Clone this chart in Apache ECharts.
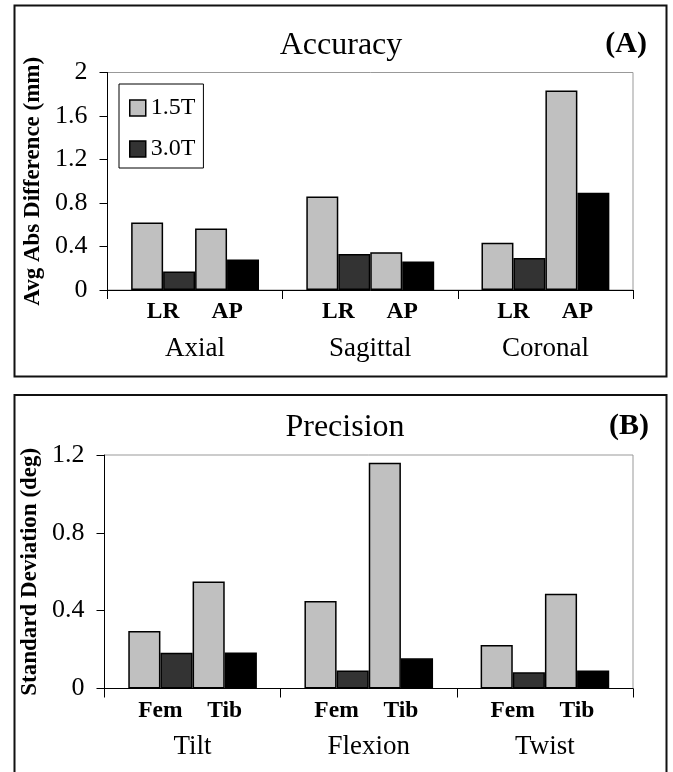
<!DOCTYPE html>
<html><head><meta charset="utf-8">
<script src="https://cdn.jsdelivr.net/npm/echarts@6/dist/echarts.min.js"></script>
<style>html,body{margin:0;padding:0;background:#fff}#c{width:673px;height:772px}</style>
</head><body><div id="c"></div>
<script>
// Panel A: Accuracy
const accCategories = ['Axial', 'Sagittal', 'Coronal'];
const accLR15 = [0.62, 0.86, 0.435];
const accLR30 = [0.17, 0.33, 0.295];
const accAP15 = [0.565, 0.347, 1.835];
const accAP30 = [0.28, 0.263, 0.895];
const accTicks = [0, 0.4, 0.8, 1.2, 1.6, 2];
// Panel B: Precision
const precCategories = ['Tilt', 'Flexion', 'Twist'];
const precFem15 = [0.295, 0.45, 0.224];
const precFem30 = [0.184, 0.092, 0.083];
const precTib15 = [0.55, 1.16, 0.487];
const precTib30 = [0.185, 0.155, 0.093];
const precTicks = [0, 0.4, 0.8, 1.2];
const legendNames = ['1.5T', '3.0T'];

const FONT = "'Liberation Serif', 'Times New Roman', serif";
const chart = echarts.init(document.getElementById('c'));

function yAxis(gi, ticks, name, gap) {
  return {
    type: 'value', gridIndex: gi, min: ticks[0], max: ticks[ticks.length - 1],
    interval: ticks[1] - ticks[0],
    name: name, nameLocation: 'middle', nameRotate: 90, nameGap: gap,
    nameTextStyle: { fontFamily: FONT, fontWeight: 'bold', fontSize: 23, color: '#000' },
    axisLine: { show: true, lineStyle: { color: '#000', width: 1 } },
    axisTick: { show: true, length: 8, lineStyle: { color: '#000' } },
    axisLabel: { fontFamily: FONT, fontSize: 26, color: '#000', margin: 20 },
    splitLine: { show: false }
  };
}
function xAxis(gi, cats) {
  return {
    type: 'category', gridIndex: gi, data: cats,
    axisLine: { show: true, lineStyle: { color: '#000', width: 1 } },
    axisTick: { show: true, length: 9, lineStyle: { color: '#000' } },
    axisLabel: { fontFamily: FONT, fontSize: 27, color: '#000', margin: 45 }
  };
}
function bar(name, gi, data, color, sub, offX) {
  return {
    type: 'bar', name: name, xAxisIndex: gi, yAxisIndex: gi, data: data,
    barGap: 0, barCategoryGap: '27%',
    itemStyle: { color: color, borderColor: '#000', borderWidth: 1.5 },
    label: sub ? {
      show: true, position: 'bottom', distance: 10, offset: [offX, 0],
      formatter: sub, fontFamily: FONT, fontWeight: 'bold', fontSize: 23.5, color: '#000'
    } : { show: false },
    emphasis: { disabled: true }
  };
}

const option = {
  animation: false,
  backgroundColor: '#fff',
  graphic: [
    { type: 'rect', shape: { x: 14.5, y: 5.5, width: 652, height: 371 }, style: { fill: 'none', stroke: '#111', lineWidth: 2 }, silent: true },
    { type: 'rect', shape: { x: 14.5, y: 395, width: 652, height: 390 }, style: { fill: 'none', stroke: '#111', lineWidth: 2 }, silent: true }
  ],
  title: [
    { text: 'Accuracy', left: 341, top: 30, textAlign: 'center', padding: 0, textStyle: { fontFamily: FONT, fontSize: 32, fontWeight: 'normal', color: '#000' } },
    { text: '(A)', right: 26, top: 29, padding: 0, textStyle: { fontFamily: FONT, fontSize: 30, fontWeight: 'bold', color: '#000' } },
    { text: 'Precision', left: 345, top: 412, textAlign: 'center', padding: 0, textStyle: { fontFamily: FONT, fontSize: 32, fontWeight: 'normal', color: '#000' } },
    { text: '(B)', right: 24, top: 411, padding: 0, textStyle: { fontFamily: FONT, fontSize: 30, fontWeight: 'bold', color: '#000' } }
  ],
  legend: {
    data: legendNames, orient: 'vertical', left: 119, top: 84, icon: 'rect',
    padding: [12, 8, 7, 10], itemGap: 17, itemWidth: 16, itemHeight: 16,
    itemStyle: { borderColor: '#000', borderWidth: 1.5 },
    borderColor: '#000', borderWidth: 1, backgroundColor: '#fff',
    textStyle: { fontFamily: FONT, fontSize: 24, color: '#000' },
    selectedMode: false
  },
  grid: [
    { left: 107.5, right: 40, top: 72.5, bottom: 482, show: true, borderColor: '#999', borderWidth: 1 },
    { left: 104.5, right: 40, top: 455, bottom: 83.5, show: true, borderColor: '#999', borderWidth: 1 }
  ],
  xAxis: [xAxis(0, accCategories), xAxis(1, precCategories)],
  yAxis: [yAxis(0, accTicks, 'Avg Abs Difference (mm)', 60), yAxis(1, precTicks, 'Standard Deviation (deg)', 57)],
  series: [
    bar('1.5T', 0, accLR15, '#c0c0c0', 'LR', 16),
    bar('3.0T', 0, accLR30, '#333333', null, 0),
    bar('1.5T', 0, accAP15, '#c0c0c0', 'AP', 16),
    bar('3.0T', 0, accAP30, '#000000', null, 0),
    bar('B 1.5T', 1, precFem15, '#c0c0c0', 'Fem', 16),
    bar('B 3.0T', 1, precFem30, '#333333', null, 0),
    bar('B 1.5T', 1, precTib15, '#c0c0c0', 'Tib', 16),
    bar('B 3.0T', 1, precTib30, '#000000', null, 0)
  ]
};
chart.setOption(option);
</script></body></html>
